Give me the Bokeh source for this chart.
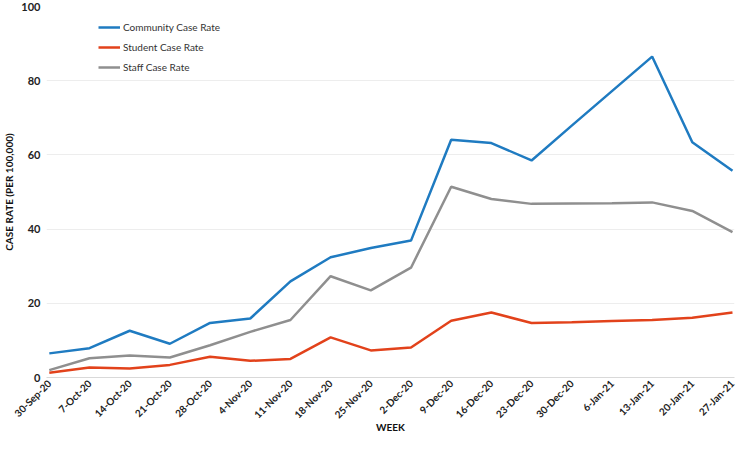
import math
from bokeh.plotting import figure
from bokeh.models import Range1d, FixedTicker, Legend, LegendItem
from bokeh.embed import file_html
from bokeh.resources import INLINE

weeks = ["30-Sep-20", "7-Oct-20", "14-Oct-20", "21-Oct-20", "28-Oct-20", "4-Nov-20",
         "11-Nov-20", "18-Nov-20", "25-Nov-20", "2-Dec-20", "9-Dec-20", "16-Dec-20",
         "23-Dec-20", "30-Dec-20", "6-Jan-21", "13-Jan-21", "20-Jan-21", "27-Jan-21"]
community = [6.5, 7.9, 12.6, 9.1, 14.7, 15.9, 25.9, 32.4, 34.9, 36.9, 64.1, 63.2,
             58.5, 67.9, 77.2, 86.5, 63.4, 55.7]
student = [1.3, 2.7, 2.4, 3.4, 5.6, 4.5, 5.0, 10.8, 7.3, 8.1, 15.3, 17.5,
           14.7, 14.9, 15.2, 15.5, 16.1, 17.5]
staff = [2.0, 5.2, 5.9, 5.4, 8.7, 12.3, 15.5, 27.3, 23.5, 29.6, 51.4, 48.1,
         46.8, 46.9, 47.0, 47.2, 44.9, 39.2]
y_ticks = [0, 20, 40, 60, 80, 100]
x_title = "WEEK"
y_title = "CASE RATE (PER 100,000)"

xs = list(range(len(weeks)))
FONT = "Lato"

p = figure(width=736, height=435, output_backend="svg", toolbar_location=None,
           x_range=Range1d(-0.07, 17.05), y_range=Range1d(0, 100),
           min_border_top=6, min_border_right=2, min_border_left=0, min_border_bottom=0)
p.outline_line_color = None
p.background_fill_color = "white"

p.xaxis.ticker = FixedTicker(ticks=xs)
p.xaxis.major_label_overrides = {i: w for i, w in enumerate(weeks)}
p.xaxis.major_label_orientation = math.pi / 4
p.xaxis.axis_label = x_title
p.yaxis.axis_label = y_title
p.yaxis.ticker = FixedTicker(ticks=y_ticks)

for ax in (p.xaxis, p.yaxis):
    ax.major_label_text_font = FONT
    ax.major_label_text_font_style = "bold"
    ax.major_label_text_color = "#222222"
    ax.axis_label_text_font = FONT
    ax.axis_label_text_font_size = "10px"
    ax.axis_label_text_font_style = "bold"
    ax.axis_label_text_color = "#111111"
    ax.major_tick_line_color = None
    ax.minor_tick_line_color = None
    ax.major_tick_out = 0
    ax.major_tick_in = 0
    ax.minor_tick_out = 0
    ax.minor_tick_in = 0

p.xaxis.major_label_text_font_size = "10px"
p.yaxis.major_label_text_font_size = "11px"
p.yaxis.axis_line_color = None
p.yaxis.major_label_standoff = 6
p.yaxis.axis_label_standoff = 3
p.xaxis.axis_line_color = "#d9d9d9"
p.xaxis.major_label_standoff = 4
p.xaxis.axis_label_standoff = -7

p.xgrid.grid_line_color = None
p.ygrid.grid_line_color = "#ededed"
p.ygrid.ticker = FixedTicker(ticks=y_ticks)

r1 = p.line(xs, community, line_color="#1f7bc1", line_width=2.5)
r2 = p.line(xs, student, line_color="#e2421b", line_width=2.5)
r3 = p.line(xs, staff, line_color="#8f8f8f", line_width=2.5)

legend = Legend(items=[LegendItem(label="Community Case Rate", renderers=[r1]),
                       LegendItem(label="Student Case Rate", renderers=[r2]),
                       LegendItem(label="Staff Case Rate", renderers=[r3])],
                location=(52, 303), orientation="vertical")
legend.background_fill_alpha = 0
legend.border_line_color = None
legend.label_text_font = FONT
legend.label_text_font_size = "10px"
legend.label_text_color = "#333333"
legend.glyph_width = 22
legend.glyph_height = 14
legend.label_height = 14
legend.spacing = 6
legend.padding = 0
legend.margin = 0
legend.label_standoff = 3
p.add_layout(legend, "center")

open("out.html", "w").write(file_html(p, INLINE))
